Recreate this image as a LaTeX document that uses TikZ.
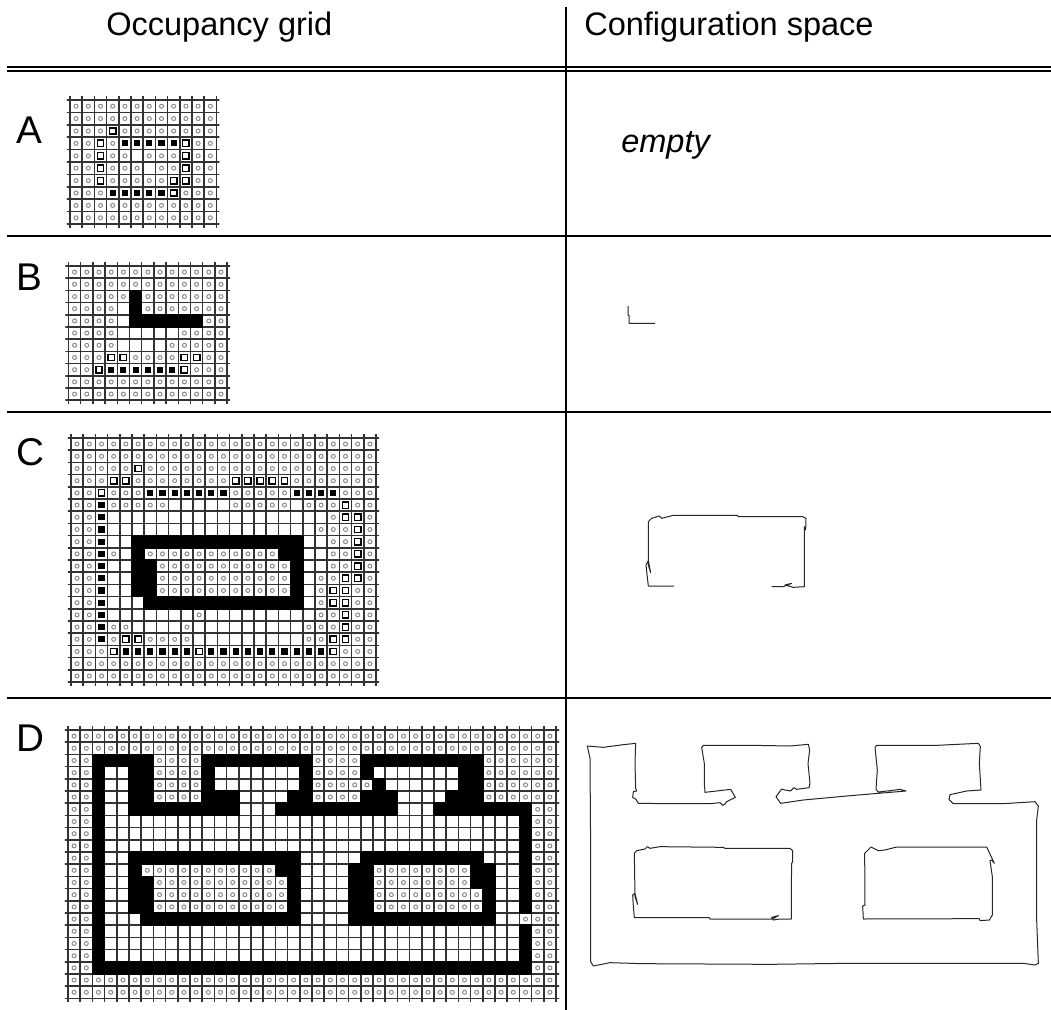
\documentclass[tikz,border=0pt]{standalone}
\usepackage{fontspec}
\setmainfont{Liberation Sans}
\usepackage{tikz}
\tikzset{
  headtext/.style={anchor=base west,inner sep=0pt,font=\fontsize{24.4}{27}\selectfont},
  rowtext/.style={anchor=base west,inner sep=0pt,font=\fontsize{29}{32}\selectfont},
  tableline/.style={line width=1.5pt,black},
  gridrule/.style={line width=1.1pt,black!80},
  freecell/.style={draw=black!45,line width=.75pt},
  wallcell/.style={fill=black,draw=black,line width=1.1pt},
  hitcell/.style={draw=black,fill=white,line width=1.1pt},
  solidcell/.style={fill=black},
  trace/.style={line width=.75pt,black!85,line join=round}
}
\newcount\gridcol
\newcount\gridrow
\makeatletter
\newcommand{\occcell}{%
  \if\gridtok o\draw[freecell] (\the\gridcol+.5,\the\gridrow+.5) circle (1.5pt);\fi
  \if\gridtok x\filldraw[wallcell] (\the\gridcol,\the\gridrow) rectangle ++(1,1);\fi
  \if\gridtok s\filldraw[hitcell] ([xshift=-2.4pt,yshift=-2.4pt]\the\gridcol+.5,\the\gridrow+.5) rectangle ++(4.8pt,4.8pt);\fi
  \if\gridtok b\fill[solidcell] ([xshift=-2.3pt,yshift=-2.3pt]\the\gridcol+.5,\the\gridrow+.5) rectangle ++(4.6pt,4.6pt);\fi
}
\newcommand{\occrow}[1]{\gridcol=0 \@tfor\gridtok:=#1\do{\occcell\advance\gridcol by 1 }\advance\gridrow by 1 }
\makeatother
% cols, rows, then the rows of the grid: o free, . empty, x wall, s hollow, b solid
\newcommand{\occgrid}[3]{%
  \gridrow=0
  \clip (-.25,-.25) rectangle (#1+.25,#2+.25);
  \foreach \i in {0,...,#1} \draw[gridrule] (\i,-1) -- (\i,#2+1);
  \foreach \j in {0,...,#2} \draw[gridrule] (-1,\j) -- (#1+1,\j);
  #3
}

\begin{document}
\begin{tikzpicture}[x=.75pt,y=-.75pt]
  \useasboundingbox (0,0) rectangle (1051,1010);
  % table
  \draw[tableline] (566,7) -- (566,1010);
  \draw[tableline] (7,67) -- (1051,67);
  \draw[tableline] (7,71) -- (1051,71);
  \draw[tableline] (7,236) -- (1051,236);
  \draw[tableline] (7,412) -- (1051,412);
  \draw[tableline] (7,698) -- (1051,698);
  \node[headtext] (gridhead) at (106,36) {Occupancy grid};
  \node[headtext] (spacehead) at (584,36) {Configuration space};
  \node[rowtext] (rowa) at (16,143) {A};
  \node[rowtext] (rowb) at (16,290) {B};
  \node[rowtext] (rowc) at (16,465) {C};
  \node[rowtext] (rowd) at (16,751) {D};
  \node[headtext,font=\fontsize{24.4}{27}\selectfont\itshape] (emptytext) at (621,152) {empty};
  % grids
  \begin{scope}[shift={(70,100)},x=9.15pt,y=-9.3pt]
    \occgrid{12}{10}{
      \occrow{ooooooooooooo}
      \occrow{ooooooooooooo}
      \occrow{ooo s ooooooooo}
      \occrow{oo s o bbbbb s ooo}
      \occrow{oo s oo . ooo s ooo}
      \occrow{oo s ooo . oo s ooo}
      \occrow{oo s ooooo ss ooo}
      \occrow{ooo bbbbb s oooo}
      \occrow{ooooooooooooo}
      \occrow{ooooooooooooo}
    }
  \end{scope}
  \begin{scope}[shift={(68.5,266)},x=9.15pt,y=-9.15pt]
    \occgrid{13}{11}{
      \occrow{ooooooooooooo}
      \occrow{ooooooooooooo}
      \occrow{ooooo x ooooooo}
      \occrow{oooo . x ooooooo}
      \occrow{oooo . xxxxxx oo}
      \occrow{oooo ..... oooo}
      \occrow{oooo .... ooooo}
      \occrow{ooo ss oooo ss oo}
      \occrow{oo s bbbbbb s ooo}
      \occrow{ooooooooooooo}
      \occrow{ooooooooooooo}
    }
  \end{scope}
  \begin{scope}[shift={(71,438)},x=9.15pt,y=-9.15pt]
    \occgrid{25}{20}{
      \occrow{oooooooooooooooooooooooooo}
      \occrow{oooooooooooooooooooooooooo}
      \occrow{ooooo s oooooooooooooooooooo}
      \occrow{ooo ss oooooooo sssss oooooooo}
      \occrow{oo s ooo bbbbbbb ooooo bbbb oooo}
      \occrow{oo b ooooo ..... ooooo . ooo s ooo}
      \occrow{oo b .................. o ss oo}
      \occrow{oo b ................. ooo s oo}
      \occrow{oo b .. xxxxxxxxxxxxxx .. oo s oo}
      \occrow{oo b o . x ooooooooooo xx .. oo s oo}
      \occrow{oo b .. xx ooooooooooo x .. oo s oo}
      \occrow{oo b .. xx ooooooooooo x . oo ss oo}
      \occrow{oo b .. xx ooooooooooo x . o ss ooo}
      \occrow{oo b ... xxxxxxxxxxxxx . o ss ooo}
      \occrow{oo b ....... o ......... oo s ooo}
      \occrow{oo b oo .... o ......... ooo s ooo}
      \occrow{oo b o ss oooo ......... oo ss ooo}
      \occrow{ooo s bbbbbb s bbbbbbbbbb s oooo}
      \occrow{oooooooooooooooooooooooooo}
      \occrow{oooooooooooooooooooooooooo}
    }
  \end{scope}
  \begin{scope}[shift={(68,730)},x=9.15pt,y=-9.15pt]
    \occgrid{40}{22}{
      \occrow{oooooooooooooooooooooooooooooooooooooooo}
      \occrow{oooooooooooooooooooooooooooooooooooooooo}
      \occrow{oo xxxxx oooo xxxxxxxxx oooo xxxxxxxxxx oooooo}
      \occrow{oo x .. xx oooo x ....... x oooo x ....... xx oooooo}
      \occrow{oo x .. xx oooo x ....... x ooooo x ...... xx oooooo}
      \occrow{oo x .. xx oooo xxx .... xx oooo xxx .... xxx oooooo}
      \occrow{oo x .. xxxxxxxxx ... xxxxxxxxxx ... xxxxxxxx oo}
      \occrow{oo x .................................. x oo}
      \occrow{oo x .................................. x oo}
      \occrow{oo x .................................. x oo}
      \occrow{oo x .. xxxxxxxxxxxxxx ..... xxxxxxxxxx ... x oo}
      \occrow{oo x .. x ooooooooooo xx .... xx oooooooo xx .. x oo}
      \occrow{oo x .. xx ooooooooooo x .... xx oooooooo xx .. x oo}
      \occrow{oo x .. xx ooooooooooo x .... xx ooooooooo x .. x oo}
      \occrow{oo x .. xx ooooooooooo x .... xx ooooooooo x .. x oo}
      \occrow{oo x ... xxxxxxxxxxxxx .... xxxxxxxxxxxx .. o oo}
      \occrow{oo x .................................. x oo}
      \occrow{oo x .................................. x oo}
      \occrow{oo x .................................. x oo}
      \occrow{oo xxxxxxxxxxxxxxxxxxxxxxxxxxxxxxxxxxxx oo}
      \occrow{oooooooooooooooooooooooooooooooooooooooo}
      \occrow{oooooooooooooooooooooooooooooooooooooooo}
      \occrow{oooooooooooooooooooooooooooooooooooooooo}
    }
  \end{scope}
  % traces
  \begin{scope}[shift={(610,295)},x=.25pt,y=-.25pt]
    \draw[trace] (54,33) -- (54,60) -- (57,62) -- (57,85) -- (135,85);
  \end{scope}
  \begin{scope}[shift={(620,470)},x=.25pt,y=-.25pt]
    \draw[trace] (162,348) -- (85,348) -- (82,322) -- (78,285) -- (85,272) -- (92,308) -- (85,285) -- (85,155) -- (95,145) -- (118,138) -- (125,145) -- (160,136) -- (352,136) -- (355,140) -- (548,140) -- (558,145) -- (557,180) -- (553,170) -- (553,350) -- (520,352) -- (495,345) -- (515,340) -- (490,350) -- (455,350);
  \end{scope}
  \begin{scope}[shift={(570,720)},x=.25pt,y=-.25pt]
    \draw[trace] (52,78) -- (100,82) -- (160,74) -- (197,70) -- (195,130) -- (197,205) -- (200,213) -- (190,215) -- (188,232) -- (198,238) -- (205,250) -- (300,251) -- (420,251) -- (450,248) -- (458,256) -- (465,252) -- (470,245) -- (496,232) -- (482,208) -- (440,213) -- (405,217) -- (403,190) -- (403,130) -- (395,82) -- (400,76) -- (550,76) -- (660,78) -- (715,73) -- (719,90) -- (714,130) -- (720,190) -- (717,203) -- (680,208) -- (672,203) -- (662,213) -- (645,210) -- (635,207) -- (618,230) -- (632,250) -- (700,240) -- (830,228) -- (1008,213) -- (990,208) -- (960,212) -- (925,216) -- (918,208) -- (922,150) -- (915,82) -- (920,76) -- (1100,76) -- (1225,70) -- (1231,80) -- (1228,130) -- (1233,210) -- (1190,213) -- (1140,224) -- (1137,238) -- (1150,251) -- (1300,251) -- (1395,245) -- (1405,258) -- (1400,300) -- (1400,600) -- (1405,730) -- (1395,735) -- (1360,730) -- (830,730) -- (600,733) -- (215,731) -- (120,728) -- (70,738) -- (62,725) -- (62,400) -- (60,115) -- cycle;
    \draw[trace] (193,400) -- (200,392) -- (225,387) -- (232,380) -- (240,385) -- (270,380) -- (460,382) -- (465,385) -- (660,385) -- (668,392) -- (668,425) -- (665,430) -- (664,500) -- (664,597) -- (630,597) -- (610,600) -- (605,592) -- (625,587) -- (608,597) -- (580,597) -- (420,597) -- (418,593) -- (193,593) -- (190,560) -- (188,525) -- (195,520) -- (203,553) -- (195,530) -- cycle;
    \draw[trace] (884,400) -- (903,381) -- (925,392) -- (945,390) -- (980,381) -- (1250,381) -- (1273,430) -- (1265,420) -- (1260,422) -- (1267,470) -- (1267,585) -- (1258,600) -- (1230,602) -- (1228,596) -- (880,597) -- (878,558) -- (885,555) -- cycle;
  \end{scope}
\end{tikzpicture}
\end{document}
